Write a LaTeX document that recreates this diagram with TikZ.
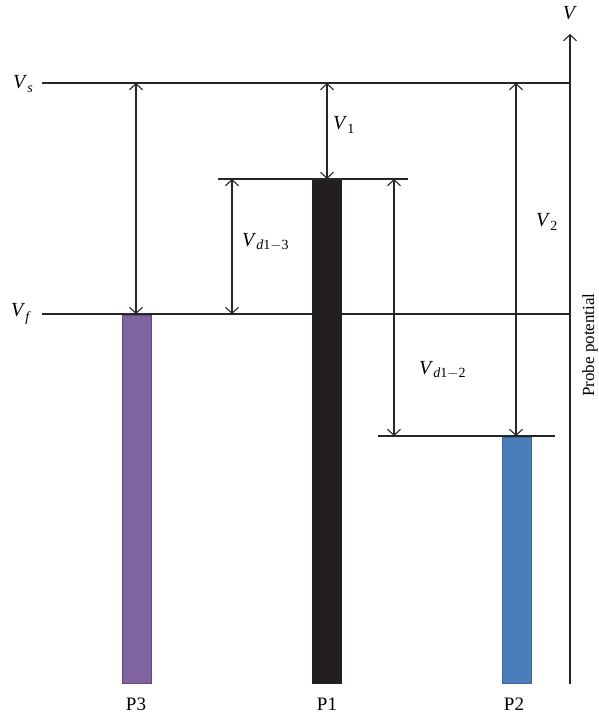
\documentclass[tikz,border=0pt]{standalone}
\usepackage{fontspec}
\setmainfont{Liberation Serif}
\usetikzlibrary{arrows.meta}
\definecolor{pthree}{HTML}{8064A2}
\definecolor{pthreeb}{HTML}{5F4A7E}
\definecolor{pone}{HTML}{231F20}
\definecolor{ptwo}{HTML}{4A7EBB}
\definecolor{ptwob}{HTML}{3A679C}
\definecolor{ln}{HTML}{262626}
\begin{document}
\begin{tikzpicture}[x=1pt,y=-1pt,
  level/.style={draw=ln,line width=1.1pt},
  dim/.style={draw=ln,line width=1.1pt,{Straight Barb[length=6pt,width=13pt]}-{Straight Barb[length=6pt,width=13pt]}},
  lbl/.style={font=\fontsize{20}{22}\selectfont,inner sep=0pt},
  barlbl/.style={font=\fontsize{19}{21}\selectfont,inner sep=0pt}]
\useasboundingbox (0,0) rectangle (599,718);
% levels
\coordinate (vsL) at (42,83);
\coordinate (vsR) at (570,83);
\coordinate (vfL) at (42,314);
\coordinate (vfR) at (570,314);
\coordinate (p1L) at (218,179);
\coordinate (p1R) at (408,179);
\coordinate (p2L) at (378,436);
\coordinate (p2R) at (555,436);
\draw[level] (vsL) -- (vsR);
\draw[level] (vfL) -- (vfR);
\draw[level] (p1L) -- (p1R);
\draw[level] (p2L) -- (p2R);
% axis
\coordinate (axB) at (570,684);
\coordinate (axT) at (570,34);
\draw[draw=ln,line width=1.1pt,-{Straight Barb[length=6pt,width=13pt]}] (axB) -- (axT);
\node[lbl] (V) at (570,13) {\textit{V}};
\node[font=\fontsize{17}{19}\selectfont,rotate=90,inner sep=0pt] (pp) at (590,345) {Probe potential};
% bars
\filldraw[fill=pthree,draw=pthreeb,line width=0.8pt] (122,315) rectangle (151,683);
\filldraw[fill=pone,draw=pone,line width=0.5pt] (312,180) rectangle (341,683);
\filldraw[fill=ptwo,draw=ptwob,line width=0.8pt] (502,437) rectangle (531,683);
\node[barlbl] (P3) at (136,704) {P3};
\node[barlbl] (P1) at (327,704) {P1};
\node[barlbl] (P2) at (514,704) {P2};
% level labels
\node[lbl] (Vs) at (23,84) {\textit{V}\raisebox{-0.35ex}{\fontsize{14}{16}\selectfont\textit{s}}};
\node[lbl] (Vf) at (21,314) {\textit{V}\raisebox{-0.45ex}{\fontsize{14}{16}\selectfont\textit{f}}};
% dimension arrows
\coordinate (a1t) at (136,83);  \coordinate (a1b) at (136,314);
\coordinate (a2t) at (327,83);  \coordinate (a2b) at (327,179);
\coordinate (a3t) at (232,179); \coordinate (a3b) at (232,314);
\coordinate (a4t) at (394,179); \coordinate (a4b) at (394,436);
\coordinate (a5t) at (516,83);  \coordinate (a5b) at (516,436);
\draw[dim] (a1t) -- (a1b);
\draw[dim] (a2t) -- (a2b);
\draw[dim] (a3t) -- (a3b);
\draw[dim] (a4t) -- (a4b);
\draw[dim] (a5t) -- (a5b);
\node[lbl,anchor=west] (V1) at (333,125) {\textit{V}\raisebox{-0.35ex}{\fontsize{14}{16}\selectfont 1}};
\node[lbl,anchor=west] (Vd13) at (242,242) {\textit{V}\raisebox{-0.35ex}{\fontsize{14}{16}\selectfont\textit{d}1\raisebox{0.1ex}{$-$}3}};
\node[lbl,anchor=west] (Vd12) at (419,370) {\textit{V}\raisebox{-0.35ex}{\fontsize{14}{16}\selectfont\textit{d}1\raisebox{0.1ex}{$-$}2}};
\node[lbl,anchor=west] (V2) at (536,222) {\textit{V}\raisebox{-0.35ex}{\fontsize{14}{16}\selectfont 2}};
\end{tikzpicture}
\end{document}
